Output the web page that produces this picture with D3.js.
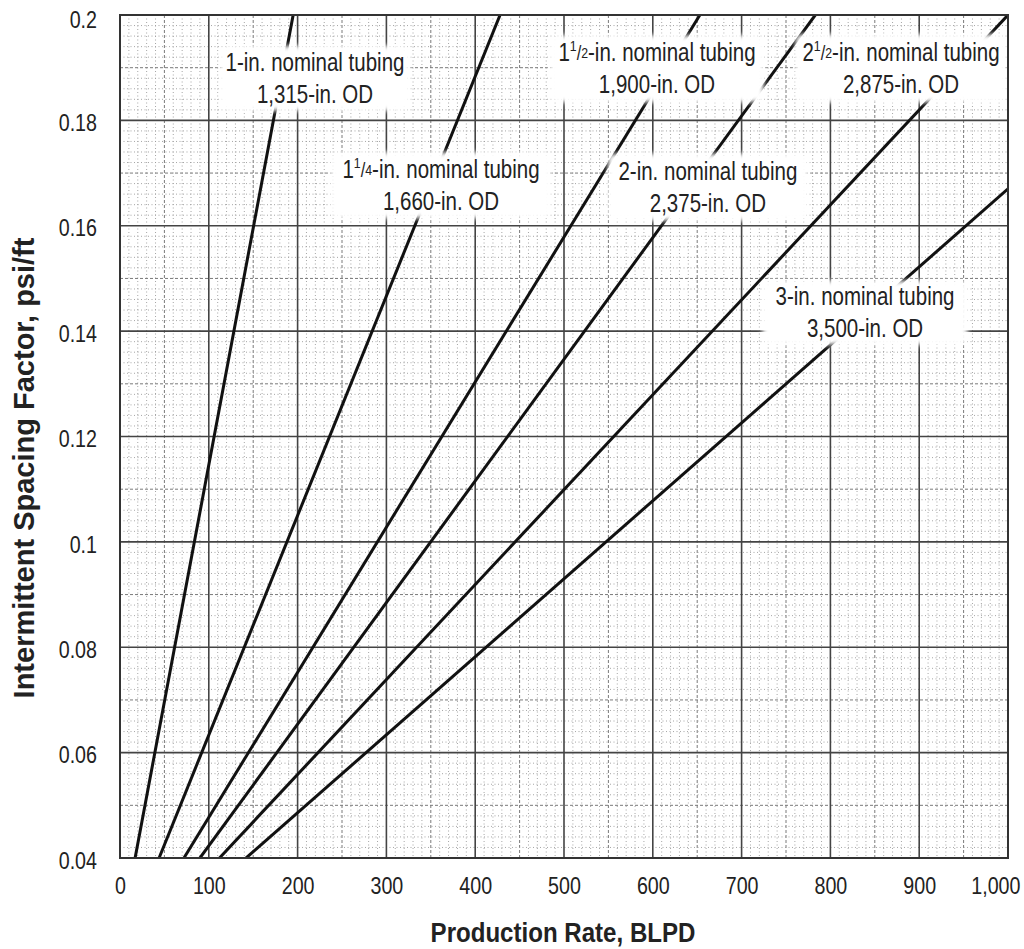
<!DOCTYPE html>
<html><head><meta charset="utf-8">
<script src="https://cdn.jsdelivr.net/npm/d3@7"></script>
<style>
html,body{margin:0;padding:0;background:#fff;}
svg text{font-family:'Liberation Sans',Arial,sans-serif;fill:#222;}
</style></head>
<body><svg id="chart" width="1024" height="949"></svg>
<script>
// ---- data ----
const xTicks = [0,100,200,300,400,500,600,700,800,900,1000];
const xTickLabels = ["0","100","200","300","400","500","600","700","800","900","1,000"];
const yTicks = [0.04,0.06,0.08,0.1,0.12,0.14,0.16,0.18,0.2];
const yTickLabels = ["0.04","0.06","0.08","0.1","0.12","0.14","0.16","0.18","0.2"];
const tubingWhole = ["1","1","1","2","2","3"];
const tubingFrac = ["","1/4","1/2","","1/2",""];
const tubingOD = ["1,315-in. OD","1,660-in. OD","1,900-in. OD","2,375-in. OD","2,875-in. OD","3,500-in. OD"];
const startRate = [17, 44, 72, 90, 112, 142];
const startFactor = [0.04, 0.04, 0.04, 0.04, 0.04, 0.04];
const endRate = [195, 428, 653, 783, 1000, 1000];
const endFactor = [0.2, 0.2, 0.2, 0.2, 0.2, 0.167];
const xTitle = "Production Rate, BLPD";
const yTitle = "Intermittent Spacing Factor, psi/ft";

// ---- layout ----
const labelCenterRate = [219.6, 361.5, 604.7, 662, 879.5, 839];
const labelCenterFactor = [0.188, 0.1677, 0.1898, 0.1673, 0.1899, 0.1435];
const labelBoxW = [190, 220, 214, 200, 211, 205];
const labelBoxH = [65, 66, 67, 67, 68, 64];
const NARROW = 0.82;

const svg = d3.select("#chart");
const L = 120, R = 1008, T = 15, B = 858;
const x = d3.scaleLinear().domain([0,1000]).range([L,R]);
const y = d3.scaleLinear().domain([0.04,0.2]).range([B,T]);

const defs = svg.append("defs");
defs.append("filter").attr("id","soft").attr("x","-10%").attr("y","-20%").attr("width","120%").attr("height","140%")
  .append("feGaussianBlur").attr("stdDeviation",2.5);
defs.append("clipPath").attr("id","plotClip").append("rect")
  .attr("x",L).attr("y",T).attr("width",R-L).attr("height",B-T);

const g = svg.append("g");
const grid = g.append("g");

// minor verticals
const minorX = d3.range(10,1000,10).filter(v => v % 100 !== 0);
grid.selectAll("line.mvx").data(minorX).enter().append("line")
  .attr("x1",d=>x(d)).attr("x2",d=>x(d)).attr("y1",T).attr("y2",B)
  .attr("stroke", d => d%50===0 ? "#7a7a7a" : "#9c9c9c")
  .attr("stroke-width", d => d%50===0 ? 1 : 0.9)
  .attr("stroke-dasharray", d => d%50===0 ? "3,2" : "1,2.5");
// minor horizontals
grid.selectAll("line.mhy").data(d3.range(1,80).filter(i=>i%10!==0)).enter().append("line")
  .attr("x1",L).attr("x2",R).attr("y1",i=>y(0.04+i*0.002)).attr("y2",i=>y(0.04+i*0.002))
  .attr("stroke", i => i%5===0 ? "#7a7a7a" : "#9c9c9c")
  .attr("stroke-width", i => i%5===0 ? 1 : 0.9)
  .attr("stroke-dasharray", i => i%5===0 ? "3,2" : "1,2.5");
// major grid
grid.selectAll("line.Mx").data(xTicks.slice(1,-1)).enter().append("line")
  .attr("x1",d=>x(d)).attr("x2",d=>x(d)).attr("y1",T).attr("y2",B)
  .attr("stroke","#444").attr("stroke-width",1.6);
grid.selectAll("line.My").data(yTicks.slice(1,-1)).enter().append("line")
  .attr("x1",L).attr("x2",R).attr("y1",d=>y(d)).attr("y2",d=>y(d))
  .attr("stroke","#444").attr("stroke-width",1.6);

// tubing lines
const lineGen = d3.line().x(d=>x(d[0])).y(d=>y(d[1]));
const lineData = startRate.map((s,i)=>[[s,startFactor[i]],[endRate[i],endFactor[i]]]);
g.append("g").attr("clip-path","url(#plotClip)").selectAll("path").data(lineData).enter().append("path")
  .attr("d",lineGen).attr("stroke","#111").attr("stroke-width",3).attr("fill","none");

// label boxes
const boxes = g.append("g").attr("clip-path","url(#plotClip)");
labelCenterRate.forEach((r,i)=>{
  const cx = x(r), cy = y(labelCenterFactor[i]);
  boxes.append("rect").attr("x",cx-labelBoxW[i]/2).attr("y",cy-labelBoxH[i]/2)
    .attr("width",labelBoxW[i]).attr("height",labelBoxH[i]).attr("rx",6)
    .attr("fill","#fff").attr("filter","url(#soft)");
});
// label texts
const labels = g.append("g");
labelCenterRate.forEach((r,i)=>{
  const cx = x(r), cy = y(labelCenterFactor[i]);
  const t1 = labels.append("g").attr("transform",`translate(${cx},${cy-16}) scale(${NARROW},1)`)
    .append("text").attr("text-anchor","middle").attr("dominant-baseline","central").attr("font-size",25);
  t1.append("tspan").text(tubingWhole[i]);
  if (tubingFrac[i]) {
    const [n,dn] = tubingFrac[i].split("/");
    t1.append("tspan").attr("font-size",15).attr("dy",-7).text(n);
    t1.append("tspan").attr("font-size",20).attr("dy",7).text("/");
    t1.append("tspan").attr("font-size",15).text(dn);
  }
  t1.append("tspan").text("-in. nominal tubing");
  labels.append("g").attr("transform",`translate(${cx},${cy+16}) scale(${NARROW},1)`)
    .append("text").attr("text-anchor","middle").attr("dominant-baseline","central")
    .attr("font-size",25).text(tubingOD[i]);
});

// border
g.append("rect").attr("x",L).attr("y",T).attr("width",R-L).attr("height",B-T)
  .attr("fill","none").attr("stroke","#333").attr("stroke-width",2);

// axes
const xAxis = d3.axisBottom(x).tickValues(xTicks).tickFormat((d,i)=>xTickLabels[i]).tickSize(0).tickPadding(0);
const xa = svg.append("g").attr("transform",`translate(0,${B})`).call(xAxis);
xa.select(".domain").remove();
xa.selectAll(".tick text").attr("font-size",24).attr("fill","#222")
  .attr("y",0).attr("dy",null).attr("dominant-baseline","central")
  .attr("transform",`translate(0,28) scale(${NARROW},1)`)
  .attr("text-anchor",(d,i)=> i===xTicks.length-1 ? "end" : "middle")
  .attr("x",(d,i)=> i===xTicks.length-1 ? 12/NARROW : 0);
const yAxis = d3.axisLeft(y).tickValues(yTicks).tickFormat((d,i)=>yTickLabels[i]).tickSize(0).tickPadding(0);
const ya = svg.append("g").attr("transform",`translate(${L},0)`).call(yAxis);
ya.select(".domain").remove();
ya.selectAll(".tick text").attr("font-size",24).attr("fill","#222")
  .attr("x",0).attr("dy",null).attr("dominant-baseline","central").attr("text-anchor","end")
  .attr("transform",(d,i)=>`translate(-23,${i===yTicks.length-1 ? 4 : 2}) scale(${NARROW},1)`);

svg.append("g").attr("transform",`translate(563,932) scale(0.86,1)`)
  .append("text").attr("text-anchor","middle")
  .attr("dominant-baseline","central").attr("font-size",28).attr("font-weight","bold").text(xTitle);
svg.append("g").attr("transform","translate(24,468) rotate(-90) scale(1.0,1)")
  .append("text").attr("text-anchor","middle")
  .attr("dominant-baseline","central").attr("font-size",29).attr("font-weight","bold").text(yTitle);
</script></body></html>
